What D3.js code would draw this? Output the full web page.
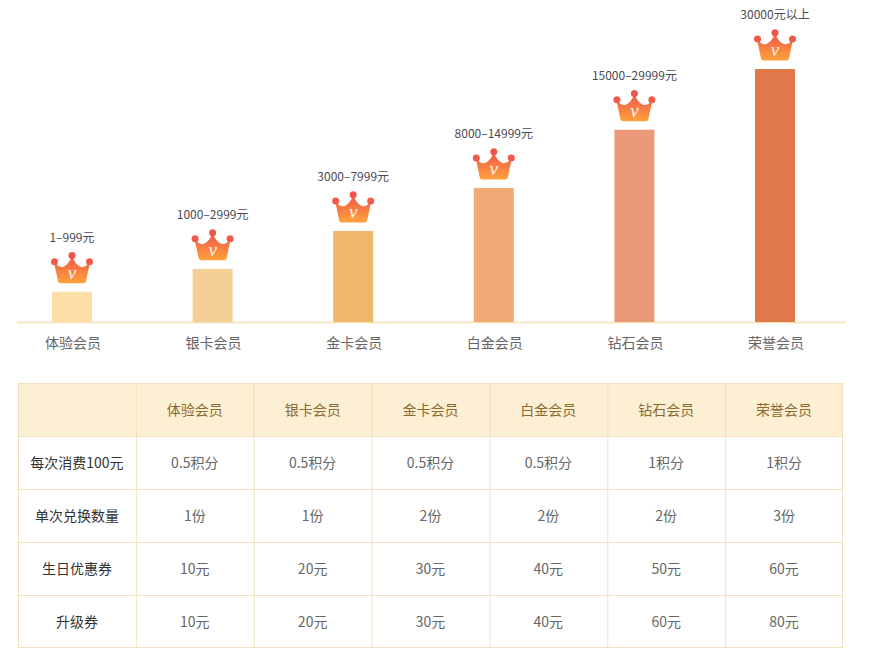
<!DOCTYPE html>
<html>
<head>
<meta charset="utf-8">
<script src="https://cdn.jsdelivr.net/npm/d3@7"></script>
<style>
  html, body { margin: 0; padding: 0; background: #fff; }
  svg { display: block; font-family: "Noto Sans CJK SC", "Noto Sans", sans-serif; }
</style>
</head>
<body>
<svg id="chart" width="874" height="656"></svg>
<script>
// ---------- data ----------
const levels = ["体验会员", "银卡会员", "金卡会员", "白金会员", "钻石会员", "荣誉会员"];
const barHeights = [12, 21, 36, 53, 76, 100];            // relative bar height
const ranges = ["1–999元", "1000–2999元", "3000–7999元", "8000–14999元", "15000–29999元", "30000元以上"];
const barColors = ["#fddfa7", "#f5d094", "#efb86d", "#f0aa76", "#ea9a78", "#e17a4b"];

const rowLabels = ["每次消费100元", "单次兑换数量", "生日优惠券", "升级券"];
const pointsPer100 = ["0.5积分", "0.5积分", "0.5积分", "0.5积分", "1积分", "1积分"];
const exchangeQty = ["1份", "1份", "2份", "2份", "2份", "3份"];
const birthdayCoupon = ["10元", "20元", "30元", "40元", "50元", "60元"];
const upgradeCoupon = ["10元", "20元", "30元", "40元", "60元", "80元"];

// ---------- chart ----------
const svg = d3.select("#chart");
const baseline = 322;

const x = d3.scalePoint().domain(levels).range([72, 775]);
const y = d3.scaleLinear().domain([0, 100]).range([baseline, 69]);
const barW = 40;

const defs = svg.append("defs");
const grad = defs.append("linearGradient").attr("id", "crownGrad")
  .attr("x1", 0).attr("y1", 0).attr("x2", 0).attr("y2", 1);
grad.append("stop").attr("offset", "0%").attr("stop-color", "#ef5649");
grad.append("stop").attr("offset", "100%").attr("stop-color", "#ffa23c");

// axis line
svg.append("line")
  .attr("x1", 17).attr("x2", 846)
  .attr("y1", baseline + 0.5).attr("y2", baseline + 0.5)
  .attr("stroke", "#f6dfb0").attr("stroke-width", 1.5);

const data = levels.map((d, i) => ({ name: d, h: barHeights[i], range: ranges[i], color: barColors[i] }));

svg.append("g").selectAll("rect").data(data).join("rect")
  .attr("x", d => x(d.name) - barW / 2)
  .attr("y", d => y(d.h))
  .attr("width", barW)
  .attr("height", d => baseline - y(d.h))
  .attr("fill", d => d.color);

// crowns
const crownPath = "M-18,10.5 L-14,29.5 Q-13.6,31.5 -11.5,31.5 L11.5,31.5 Q13.6,31.5 14,29.5 L18,10.5 Q13,16.5 8.5,15 Q3,12.5 0,4 Q-3,12.5 -8.5,15 Q-13,16.5 -18,10.5 Z";
const crowns = svg.append("g").selectAll("g").data(data).join("g")
  .attr("transform", d => `translate(${x(d.name)},${y(d.h) - 40})`);
crowns.append("path").attr("d", crownPath).attr("fill", "url(#crownGrad)");
crowns.append("circle").attr("cx", -17.5).attr("cy", 10).attr("r", 3.5).attr("fill", "#ef5a4a");
crowns.append("circle").attr("cx", 17.5).attr("cy", 10).attr("r", 3.5).attr("fill", "#ef5a4a");
crowns.append("circle").attr("cx", 0).attr("cy", 3.8).attr("r", 3.5).attr("fill", "#ee5448");
crowns.append("text")
  .attr("x", 0).attr("y", 27)
  .attr("text-anchor", "middle")
  .attr("font-family", "Liberation Serif, DejaVu Serif, serif")
  .attr("font-style", "italic")
  .attr("font-size", 19)
  .attr("fill", "#fff")
  .attr("fill-opacity", 0.92)
  .text("v");

// range labels
svg.append("g").selectAll("text").data(data).join("text")
  .attr("x", d => x(d.name))
  .attr("y", d => y(d.h) - 50)
  .attr("text-anchor", "middle")
  .attr("font-size", 12)
  .attr("fill", "#4a4a55")
  .text(d => d.range);

// category labels
svg.append("g").selectAll("text").data(data).join("text")
  .attr("x", d => x(d.name) + 1)
  .attr("y", 348)
  .attr("text-anchor", "middle")
  .attr("font-size", 14)
  .attr("fill", "#666")
  .text(d => d.name);

// ---------- table ----------
const cols = ["label"].concat(levels);
const colX = d3.scaleBand().domain(cols).range([18, 843]);
const rowKeys = ["header"].concat(rowLabels);
const rowY = d3.scaleBand().domain(rowKeys).range([383, 648]);

const tableRows = [
  ["", ...levels],
  [rowLabels[0], ...pointsPer100],
  [rowLabels[1], ...exchangeQty],
  [rowLabels[2], ...birthdayCoupon],
  [rowLabels[3], ...upgradeCoupon]
];

const tg = svg.append("g");
tg.append("rect")
  .attr("x", colX("label")).attr("y", rowY("header"))
  .attr("width", colX.range()[1] - colX.range()[0])
  .attr("height", rowY.bandwidth())
  .attr("fill", "#fcefd4");

const border = "#f0e0bf";
rowKeys.forEach(k => {
  tg.append("line")
    .attr("x1", 18).attr("x2", 843)
    .attr("y1", rowY(k) + 0.5).attr("y2", rowY(k) + 0.5)
    .attr("stroke", border);
});
tg.append("line").attr("x1", 18).attr("x2", 843)
  .attr("y1", 647.5).attr("y2", 647.5).attr("stroke", border);
cols.forEach(c => {
  tg.append("line")
    .attr("x1", colX(c) + 0.5).attr("x2", colX(c) + 0.5)
    .attr("y1", 383).attr("y2", 648)
    .attr("stroke", border);
});
tg.append("line").attr("x1", 842.5).attr("x2", 842.5)
  .attr("y1", 383).attr("y2", 648).attr("stroke", border);

tableRows.forEach((row, ri) => {
  row.forEach((txt, ci) => {
    if (!txt) return;
    const color = ri === 0 ? "#8a6a30" : (ci === 0 ? "#333" : "#666");
    tg.append("text")
      .attr("x", colX(cols[ci]) + colX.bandwidth() / 2)
      .attr("y", rowY(rowKeys[ri]) + rowY.bandwidth() / 2 + 5)
      .attr("text-anchor", "middle")
      .attr("font-size", 14)
      .attr("fill", color)
      .text(txt);
  });
});
</script>
</body>
</html>
